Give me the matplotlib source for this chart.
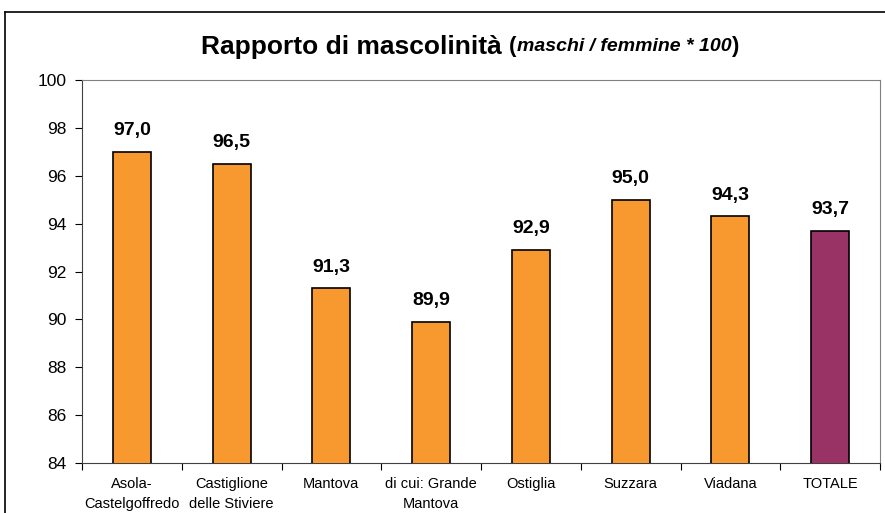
import matplotlib.pyplot as plt
from matplotlib.lines import Line2D

plt.rcParams['font.family'] = ['Liberation Sans', 'DejaVu Sans']

categories = ["Asola-\nCastelgoffredo", "Castiglione\ndelle Stiviere", "Mantova",
              "di cui: Grande\nMantova", "Ostiglia", "Suzzara", "Viadana", "TOTALE"]
values = [97.0, 96.5, 91.3, 89.9, 92.9, 95.0, 94.3, 93.7]
colors = ["#F7992F"] * 7 + ["#993366"]

fig = plt.figure(figsize=(8.85, 5.13), dpi=100)
ax = fig.add_axes([82 / 885, 1 - 463 / 513, (880 - 82) / 885, (463 - 80) / 513])

x = list(range(len(values)))
ax.bar(x, values, width=0.38, color=colors, edgecolor="black", linewidth=1.2, zorder=3)

for xi, v in zip(x, values):
    ax.annotate(f"{v:.1f}".replace(".", ","), (xi, v), xytext=(0, 9),
                textcoords="offset points", ha="center", va="bottom",
                fontsize=14, fontweight="bold")

ax.set_ylim(84, 100)
ax.set_xlim(-0.5, len(values) - 0.5)
ax.set_yticks(range(84, 101, 2))
ax.tick_params(axis="y", labelsize=12.5, direction="out", length=5, pad=6)

# category labels centred under bars, ticks at the boundaries
ax.set_xticks([i - 0.5 for i in range(len(values) + 1)])
ax.set_xticklabels([])
ax.tick_params(axis="x", direction="out", length=5)
ax.set_xticks(x, minor=True)
ax.set_xticklabels(categories, minor=True, fontsize=10.5, linespacing=1.55)
ax.tick_params(axis="x", which="minor", length=0, pad=10)

for side in ["top", "right"]:
    ax.spines[side].set_color("#808080")
for side in ["left", "bottom"]:
    ax.spines[side].set_color("#404040")

# outer chart border (top and left visible)
fig.add_artist(Line2D([5 / 885, 1], [1 - 12 / 513, 1 - 12 / 513], color="black", lw=1.2))
fig.add_artist(Line2D([5 / 885, 5 / 885], [0, 1 - 12 / 513], color="black", lw=1.2))

# title in pieces: bold, bold paren, bold italic, bold paren
parts = [("Rapporto di mascolinità ", 19, "normal"),
         ("(", 16, "normal"),
         ("maschi / femmine * 100", 14, "italic"),
         (")", 16, "normal")]
fig.canvas.draw()
r = fig.canvas.get_renderer()
texts = []
for s, fs, st in parts:
    t = fig.text(0, 1 - 47 / 513, s, fontsize=fs, fontweight="bold", style=st,
                 va="center", ha="left")
    texts.append(t)
widths = [t.get_window_extent(r).width for t in texts]
xpos = 470 - sum(widths) / 2
for t, w in zip(texts, widths):
    t.set_x(xpos / 885)
    xpos += w

fig.savefig("out.png", dpi=100)
